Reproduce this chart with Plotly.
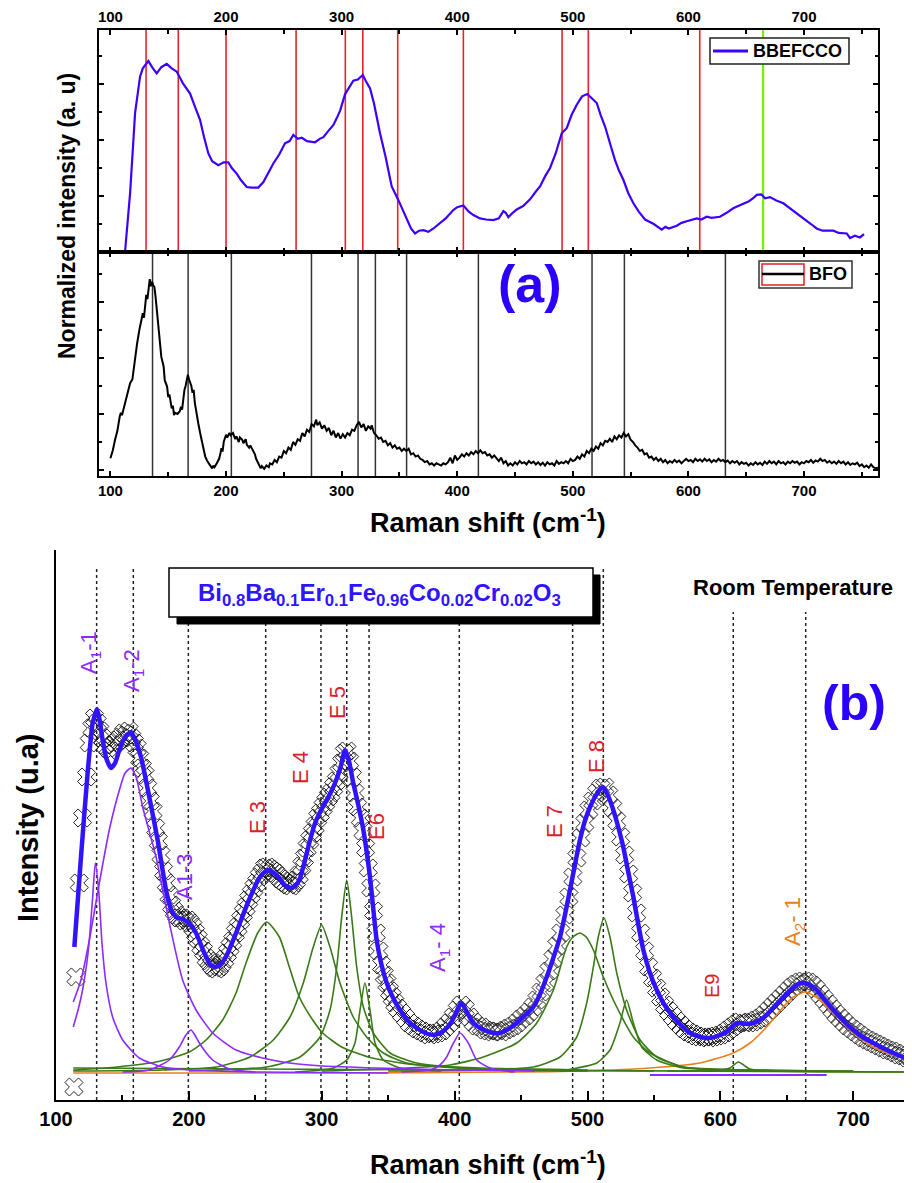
import plotly.graph_objects as go

W, H = 912, 1183
OFF = 8  # page body margin offset in the browser
def PX(px): return (px - OFF) / W
def PY(py): return 1 - (py - OFF) / H

FONT = "Arial, Liberation Sans, sans-serif"

# ---------------- Panel (a) data ----------------
bbe_x = [112.6,117,121.3,125.6,128,132.8,136,140,144,148.7,153,157.4,163,168.9,173,177.5,181,184.7,188,193.3,198,202,205,209.2,213,217.9,222,227.9,232.3,236,240.9,246,251,255,258.2,262,265.5,270,277,281,284.2,288,292.9,296,298.6,303,307,310.1,314,318.3,321,324.6,328,333.2,338,343.3,349,356.3,360,363.5,367,370.7,375,379.4,382,385.1,390,396.6,400,405.3,410,414,419.7,425,431.2,436,439.9,442,444.2,448,451.5,457,463,468,471.6,476,480.3,485,490.4,494.7,499,503.4,508,512.5,516,520.7,524,527.9,532,536.5,540,543.7,548,552.4,557,562.5,570,576.9,580,583,589.9,594,598.5,603,607.2,611,615.8,620,627.3,633,638.8,643,647.5,652,656,659.1,663,666.3,670.6,676,682.1,690,696.5,703,706,710.9,716,725.4,730,737,739.8,744,748.4,751.9]
bbe_y = [0,1.05,2.48,3.13,3.28,3.41,3.30,3.19,3.30,3.36,3.28,3.22,3.00,2.83,2.60,2.36,2.05,1.76,1.62,1.55,1.60,1.60,1.50,1.40,1.28,1.16,1.15,1.15,1.25,1.40,1.58,1.74,1.94,1.98,2.09,2.02,2.04,1.98,1.96,2.02,2.05,2.15,2.27,2.40,2.52,2.82,2.95,3.06,3.08,3.16,3.05,2.92,2.65,2.12,1.70,1.17,0.93,0.57,0.42,0.33,0.38,0.39,0.36,0.42,0.46,0.52,0.60,0.75,0.80,0.83,0.72,0.66,0.60,0.58,0.57,0.60,0.73,0.70,0.62,0.70,0.76,0.82,0.94,1.08,1.17,1.35,1.50,1.75,2.12,2.21,2.45,2.63,2.78,2.82,2.75,2.66,2.45,2.24,1.95,1.64,1.45,1.29,1.05,0.87,0.72,0.58,0.50,0.40,0.45,0.42,0.47,0.52,0.55,0.58,0.60,0.58,0.63,0.61,0.63,0.70,0.78,0.82,0.86,0.90,0.96,1.02,1.03,0.96,0.98,0.92,0.87,0.75,0.66,0.55,0.50,0.42,0.38,0.38,0.34,0.33,0.25,0.29,0.26,0.32]

bfo_x = [100,102,104,106,108,109,110,112,113,115,117,119,121,123,125,127,128,129,130,131,132,133,134,135,136,137,138,139,140,141,142,143,144,146,147,149,150,151,152,153,154,155,156,158,160,161,162,163,164,165,166,167,168,169,170,171,172,173,174,176,178,180,182,184,186,188,189,190,192,194,195,196,197,198,200,201,203,204,206,208,209,211,212,214,215,217,218,220,221,223,225,226,228,230,231,233,235,237,238,240,242,244,246,248,250,252,254,256,258,260,262,264,266,268,270,272,274,276,278,279,281,283,285,287,289,291,293,295,297,299,301,303,305,307,309,311,313,315,317,319,321,323,325,326,328,330,332,334,336,338,340,342,344,346,348,350,352,354,356,358,360,362,364,366,368,370,372,374,376,378,380,382,384,386,388,390,392,394,396,398,400,402,404,406,408,410,412,414,416,418,420,422,424,426,428,430,432,434,436,438,440,442,444,446,448,450,452,454,456,458,460,462,464,466,468,470,472,474,476,478,480,482,484,486,488,490,492,494,496,498,500,502,504,506,508,510,512,514,516,518,520,522,524,526,528,530,532,534,536,538,540,542,544,546,548,550,552,554,556,558,560,562,564,566,568,570,572,574,576,578,580,582,584,586,588,590,592,594,596,598,600,602,604,606,608,610,612,614,616,618,620,622,624,626,628,630,632,634,636,638,640,642,644,646,648,650,652,654,656,658,660,662,664,666,668,670,672,674,676,678,680,682,684,686,688,690,692,694,696,698,700,702,704,706,708,710,712,714,716,718,720,722,724,726,728,730,732,734,736,738,740,742,744,746,748,750,752,754,756,758,760,762,764]
bfo_y = [0.21,0.35,0.54,0.70,0.95,1.02,0.98,1.15,1.19,1.35,1.55,1.62,1.98,2.25,2.50,2.74,2.80,2.72,3.00,3.13,3.05,3.30,3.41,3.28,3.36,3.30,3.27,3.10,2.90,2.62,2.45,2.20,2.02,1.85,1.60,1.49,1.30,1.35,1.19,1.10,1.15,0.98,1.02,1.00,1.05,1.13,1.08,1.30,1.43,1.50,1.62,1.70,1.62,1.55,1.50,1.38,1.43,1.20,1.05,0.83,0.62,0.45,0.24,0.15,0.10,0.03,0.08,0.05,0.12,0.20,0.28,0.39,0.33,0.50,0.63,0.58,0.66,0.62,0.66,0.55,0.60,0.50,0.58,0.54,0.48,0.55,0.45,0.40,0.44,0.36,0.28,0.20,0.10,0.03,0.07,0.02,0.08,0.05,0.12,0.10,0.18,0.14,0.24,0.22,0.34,0.30,0.40,0.36,0.50,0.45,0.55,0.52,0.66,0.60,0.72,0.68,0.82,0.78,0.90,0.80,0.85,0.74,0.80,0.70,0.75,0.62,0.70,0.58,0.66,0.56,0.64,0.58,0.66,0.62,0.72,0.70,0.80,0.86,0.76,0.82,0.70,0.78,0.74,0.80,0.66,0.62,0.56,0.58,0.50,0.52,0.44,0.48,0.40,0.44,0.38,0.40,0.34,0.38,0.34,0.38,0.28,0.30,0.24,0.26,0.20,0.18,0.14,0.16,0.10,0.12,0.08,0.12,0.10,0.08,0.12,0.10,0.14,0.22,0.12,0.26,0.18,0.22,0.28,0.24,0.30,0.26,0.32,0.28,0.34,0.30,0.35,0.30,0.32,0.26,0.28,0.22,0.26,0.20,0.16,0.22,0.12,0.16,0.08,0.12,0.08,0.14,0.10,0.16,0.12,0.14,0.10,0.16,0.12,0.15,0.10,0.14,0.09,0.13,0.08,0.14,0.10,0.12,0.08,0.16,0.11,0.14,0.12,0.16,0.12,0.20,0.16,0.18,0.24,0.20,0.28,0.24,0.34,0.30,0.38,0.34,0.42,0.38,0.48,0.44,0.52,0.50,0.56,0.50,0.60,0.55,0.62,0.58,0.66,0.60,0.64,0.54,0.50,0.44,0.40,0.34,0.36,0.28,0.30,0.22,0.24,0.18,0.22,0.16,0.20,0.14,0.18,0.12,0.16,0.13,0.18,0.14,0.17,0.12,0.16,0.20,0.16,0.18,0.14,0.20,0.16,0.19,0.15,0.20,0.16,0.19,0.14,0.18,0.15,0.20,0.16,0.18,0.14,0.17,0.12,0.16,0.13,0.16,0.10,0.14,0.11,0.13,0.08,0.12,0.09,0.14,0.10,0.13,0.09,0.15,0.11,0.16,0.12,0.15,0.10,0.16,0.12,0.14,0.10,0.15,0.12,0.16,0.13,0.15,0.10,0.14,0.12,0.16,0.14,0.18,0.13,0.17,0.15,0.20,0.16,0.18,0.13,0.16,0.12,0.15,0.11,0.16,0.12,0.15,0.10,0.14,0.09,0.12,0.10,0.13,0.07,0.10,0.05,0.08,0.04,0.10,0.05,0.03,0.04]

bbe_red_lines = [130.8, 158.7, 200.0, 260.6, 303.2, 318.3, 348.5, 405.3, 490.7, 513.4, 609.8]
bbe_green_line = [664.6]
bfo_lines = [136.4, 167.2, 204.6, 273.9, 314.2, 329.2, 356.2, 418.3, 516.6, 544.6, 632.0]
top_ticks = [100, 200, 300, 400, 500, 600, 700]

# ---------------- Panel (b) data ----------------
exp_x = [113.5,115,117.5,120,123,125,127,129,131,133,135,137,139,141,143,145,147,149,151,153,155,157,159,161,163,165,167,169,171,173,175,177,179,181,183,185,187,189,191,193,195,197,199,201,203,205,207,209,211,213,215,217,219,221,223,225,227,229,231,233,235,237,239,241,243,245,247,249,251,253,255,257,259,261,263,265,267,269,271,273,275,277,279,281,283,285,287,289,291,293,295,297,299,301,303,305,307,309,311,313,315,317,319,321,323,325,327,329,331,333,335,337,339,341,343,345,347,349,351,353,355,357,360,363,366,369,372,375,378,381,384,387,390,393,396,399,402,405,408,411,414,417,420,423,426,429,432,435,438,441,444,447,450,453,456,459,462,465,468,471,474,477,480,483,486,489,492,495,498,501,504,507,510,513,516,519,522,525,528,531,534,537,540,543,546,549,552,555,558,561,564,567,570,573,576,579,582,585,588,591,594,597,600,603,606,609,612,615,618,621,624,627,630,633,636,639,642,645,648,651,654,657,660,663,666,669,672,675,678,681,684,687,690,693,696,699,702,705,708,711,714,717,720,723,726,729,732,735,738,741,744]
exp_y = [-0.14,0.96,1.90,2.55,2.96,3.30,3.45,3.55,3.50,3.42,3.35,3.28,3.25,3.22,3.28,3.30,3.33,3.36,3.40,3.38,3.42,3.35,3.30,3.25,3.15,3.05,2.98,2.85,2.72,2.62,2.45,2.32,2.18,2.02,1.90,1.78,1.68,1.62,1.58,1.55,1.55,1.52,1.53,1.50,1.46,1.40,1.34,1.27,1.22,1.15,1.12,1.08,1.05,1.04,1.06,1.10,1.14,1.20,1.26,1.32,1.40,1.46,1.53,1.60,1.66,1.73,1.79,1.85,1.90,1.96,2.00,2.05,2.06,2.04,2.02,2.00,1.97,1.94,1.92,1.90,1.88,1.87,1.90,1.93,1.98,2.07,2.15,2.25,2.33,2.40,2.47,2.55,2.60,2.66,2.71,2.76,2.80,2.86,2.92,3.00,3.10,3.20,3.22,3.12,2.96,2.80,2.66,2.55,2.42,2.25,2.05,1.85,1.62,1.40,1.22,1.08,0.98,0.90,0.82,0.76,0.70,0.65,0.60,0.55,0.50,0.47,0.44,0.42,0.40,0.38,0.39,0.40,0.42,0.46,0.50,0.56,0.63,0.68,0.64,0.56,0.51,0.47,0.46,0.43,0.42,0.41,0.42,0.41,0.43,0.45,0.47,0.50,0.54,0.57,0.61,0.66,0.73,0.81,0.90,1.02,1.14,1.27,1.40,1.58,1.76,1.96,2.15,2.35,2.50,2.63,2.72,2.80,2.85,2.86,2.78,2.65,2.52,2.36,2.18,1.99,1.80,1.60,1.40,1.22,1.06,0.95,0.85,0.76,0.68,0.62,0.57,0.52,0.48,0.44,0.41,0.39,0.37,0.36,0.36,0.35,0.36,0.37,0.38,0.40,0.43,0.46,0.49,0.51,0.50,0.50,0.51,0.53,0.55,0.58,0.62,0.66,0.70,0.74,0.78,0.82,0.86,0.89,0.91,0.92,0.91,0.88,0.84,0.79,0.74,0.69,0.64,0.59,0.55,0.51,0.47,0.44,0.41,0.38,0.35,0.33,0.31,0.29,0.27,0.25,0.23,0.22,0.20,0.18,0.17,0.15,0.14]

fit_x = [113.8,118.8,123.8,127.6,130.9,133,135.1,138,141.4,144.5,147.7,152,156.4,160,164,170.2,176.5,182.8,186.5,190.3,195,199.1,202,205.4,212.9,216.5,220.4,224,227.9,235.5,244.3,253,257,260.5,264,268.1,272,276.9,280,283.1,286.5,290.6,295,300.7,305,310,314,317.5,320.5,323.7,327.5,331.3,336.3,341.3,345,348.9,353,358.9,365,371.4,378,384,389,394,398,400.3,403,405.3,408,411.6,415,419.1,424,429.1,434,439.2,444,449.2,454,459.2,464,469.3,474,479.3,483,486.8,490.5,494.3,498,501.9,506,509,511.5,514,516.5,519.4,522.5,526.9,530.5,534.5,538,542,547,552.1,558,564.6,571,577.1,585,592.2,598,604.7,608,611,614.8,619,624.8,629.5,634.8,641,647.4,652,657.4,660.5,663.7,667.5,672.5,678,685,692,700,707,715.1,722,730.1,737,744.2]
fit_y = [1.26,2.16,3.00,3.50,3.64,3.52,3.33,3.14,3.05,3.10,3.23,3.36,3.41,3.32,3.16,2.76,2.33,1.83,1.64,1.56,1.54,1.51,1.47,1.40,1.16,1.08,1.06,1.09,1.16,1.40,1.70,1.95,2.01,2.03,2.00,1.95,1.88,1.85,1.87,1.93,2.08,2.30,2.50,2.66,2.76,2.90,3.05,3.23,3.12,2.90,2.68,2.43,1.96,1.33,1.08,0.90,0.77,0.63,0.52,0.45,0.40,0.38,0.40,0.45,0.52,0.58,0.66,0.70,0.64,0.55,0.49,0.45,0.42,0.40,0.40,0.43,0.47,0.53,0.59,0.66,0.78,0.96,1.14,1.36,1.58,1.83,2.08,2.33,2.52,2.66,2.77,2.83,2.86,2.81,2.74,2.63,2.49,2.26,2.02,1.76,1.50,1.23,1.00,0.83,0.68,0.56,0.47,0.40,0.36,0.35,0.37,0.41,0.45,0.49,0.50,0.49,0.50,0.53,0.58,0.67,0.76,0.82,0.88,0.90,0.90,0.88,0.83,0.74,0.63,0.53,0.43,0.36,0.30,0.25,0.20,0.16,0.13]

a1_1_x = [113,117,120,123,125.1,127.6,129.6,132.1,134.6,137.6,142.6,150.2,162.7,180.3,200.3,250.5,350]
a1_1_y = [0.46,0.65,0.83,1.08,1.33,1.76,2.10,1.83,1.30,0.90,0.56,0.33,0.15,0.06,0.03,0.01,0.0]
a1_2_x = [113,118.8,125.1,132.6,140.1,147.7,152,156.4,160.5,165.2,175.3,185.3,195.3,205.4,217.9,235.5,255.5,275.6,300.7,340,400,460]
a1_2_y = [0.71,0.93,1.33,1.90,2.43,2.83,3.00,3.05,2.95,2.66,2.16,1.50,0.93,0.63,0.40,0.23,0.15,0.10,0.07,0.05,0.03,0.02]
a1_3_x = [150,170,185.3,192.8,197.8,201.6,204.5,207.9,212,217.9,230.4,250]
a1_3_y = [0.01,0.03,0.13,0.26,0.38,0.43,0.38,0.30,0.22,0.13,0.04,0.01]
a1_4_x = [360,381.5,389,394,399.1,404.1,410.3,416.6,426.6,445]
a1_4_y = [0.01,0.03,0.08,0.16,0.30,0.40,0.30,0.13,0.05,0.01]
purple_base_x = [547, 680]
purple_base_y = [-0.02, -0.02]

e3_x = [113,137.6,175.3,200.3,212.9,225.4,235.5,243,251.8,258.6,268.1,275.6,283.1,293.2,300.7,315,335,365,420,500]
e3_y = [0.03,0.05,0.11,0.21,0.33,0.53,0.80,1.10,1.40,1.51,1.36,1.06,0.76,0.53,0.40,0.26,0.16,0.09,0.05,0.03]
e4_x = [113,180,220.9,246,263.5,276.1,286.1,293.6,299.9,306.2,313.7,323.7,333.8,346.3,363.9,400,450,550]
e4_y = [0.02,0.03,0.06,0.16,0.33,0.56,0.90,1.26,1.48,1.26,0.90,0.56,0.36,0.20,0.10,0.05,0.03,0.02]
e5_x = [200,258.6,283.6,298.7,306.2,311.3,315,318.8,322.5,326.3,331.3,338.8,351.4,371.4,420,500]
e5_y = [0.02,0.06,0.16,0.36,0.63,1.06,1.56,1.93,1.56,1.06,0.66,0.40,0.20,0.10,0.04,0.02]
e6_x = [280,308.7,318.8,325,328.8,332.5,336.3,340.1,346.3,359,390]
e6_y = [0.01,0.05,0.13,0.30,0.63,0.90,0.63,0.30,0.13,0.05,0.02]
e7_x = [300,350,396.5,421.6,446.7,461.8,474.3,484.3,489,494.3,499,504.4,511.9,522,534.5,547.1,572.1,620,700]
e7_y = [0.02,0.04,0.08,0.16,0.30,0.50,0.83,1.26,1.36,1.40,1.36,1.23,0.96,0.66,0.36,0.20,0.06,0.03,0.02]
e8_x = [350,420,459.2,479.3,491.9,499.4,504.4,508.1,512.4,516.9,522,529.4,539.6,552.1,572.1,620,700]
e8_y = [0.02,0.03,0.06,0.16,0.36,0.70,1.06,1.36,1.55,1.36,1.00,0.63,0.33,0.16,0.06,0.03,0.02]
e8b_x = [480,506.9,516.9,524.4,529.4,534.5,540.8,552.1,572.1,610,680]
e8b_y = [0.02,0.10,0.23,0.50,0.73,0.50,0.26,0.13,0.05,0.03,0.02]
e9_x = [560,600,607.3,613.5,622.3,640,744]
e9_y = [0.02,0.03,0.05,0.11,0.04,0.02,0.01]
green_base_x = [113, 400, 744]
green_base_y = [0.05, 0.03, 0.01]

a2_1_x = [113,300,450,496.8,547,584.6,609.7,622.3,634.8,647.3,655,663.7,672,685,700.1,715.1,730.2,744.2]
a2_1_y = [0.0,0.0,0.01,0.02,0.05,0.10,0.20,0.30,0.46,0.66,0.76,0.81,0.76,0.60,0.40,0.26,0.18,0.13]

dotted_lines = [130.6, 158.2, 199.6, 257.8, 299.4, 318.8, 335.6, 403.5, 488.8, 511.9, 609.7, 664.2]
dotted_tops = [5.07, 5.07, 5.07, 5.07, 5.07, 5.07, 5.07, 5.07, 5.07, 5.07, 4.61, 4.61]

PURPLE = "#8A2BFF"
GREEN = "#3A7A16"
ORANGE = "#E8801E"
RED = "#DC1E28"
BLUE = "#3014FF"

fig = go.Figure()

fig.add_trace(go.Scatter(x=bbe_x, y=bbe_y, xaxis="x", yaxis="y", mode="lines",
                         line=dict(color="#3C00FF", width=2.2)))
fig.add_trace(go.Scatter(x=bfo_x, y=bfo_y, xaxis="x2", yaxis="y2", mode="lines",
                         line=dict(color="black", width=2)))

fig.add_trace(go.Scatter(x=exp_x, y=exp_y, xaxis="x3", yaxis="y3", mode="markers",
                         marker=dict(symbol="x-open", size=16, color="rgba(15,15,15,0.9)",
                                     line=dict(width=1, color="rgba(15,15,15,0.9)"))))

def comp(x, y, color, width=1.6):
    fig.add_trace(go.Scatter(x=x, y=y, xaxis="x3", yaxis="y3", mode="lines",
                             line=dict(color=color, width=width, shape="spline", smoothing=0.6)))

comp(a2_1_x, a2_1_y, ORANGE)
comp(green_base_x, green_base_y, GREEN)
comp(purple_base_x, purple_base_y, PURPLE, 2)
for cx, cy in [(e3_x, e3_y), (e4_x, e4_y), (e5_x, e5_y), (e6_x, e6_y), (e7_x, e7_y),
               (e8_x, e8_y), (e8b_x, e8b_y), (e9_x, e9_y)]:
    comp(cx, cy, GREEN)
for cx, cy in [(a1_1_x, a1_1_y), (a1_2_x, a1_2_y), (a1_3_x, a1_3_y), (a1_4_x, a1_4_y)]:
    comp(cx, cy, PURPLE)

fig.add_trace(go.Scatter(x=fit_x, y=fit_y, xaxis="x3", yaxis="y3", mode="lines",
                         line=dict(color=BLUE, width=4.5, shape="spline", smoothing=0.5)))

shapes = []
for xv in bbe_red_lines:
    shapes.append(dict(type="line", xref="x", yref="y domain", x0=xv, x1=xv, y0=0, y1=1,
                       line=dict(color="#E8212B", width=1.6), layer="below"))
for xv in bbe_green_line:
    shapes.append(dict(type="line", xref="x", yref="y domain", x0=xv, x1=xv, y0=0, y1=1,
                       line=dict(color="#77F000", width=2.2), layer="below"))
for xv in bfo_lines:
    shapes.append(dict(type="line", xref="x2", yref="y2 domain", x0=xv, x1=xv, y0=0, y1=1,
                       line=dict(color="#333333", width=1.5), layer="below"))
for xv, yt in zip(dotted_lines, dotted_tops):
    shapes.append(dict(type="line", xref="x3", yref="y3", x0=xv, x1=xv, y0=-0.27, y1=yt,
                       line=dict(color="#222222", width=1.5, dash="dot"), layer="below"))

shapes.append(dict(type="rect", xref="paper", yref="paper", x0=PX(710), x1=PX(849), y0=PY(64), y1=PY(38),
                   line=dict(color="#222", width=1.5), fillcolor="white"))
shapes.append(dict(type="line", xref="paper", yref="paper", x0=PX(713), x1=PX(748), y0=PY(51), y1=PY(51),
                   line=dict(color="#3C00FF", width=3)))
shapes.append(dict(type="rect", xref="paper", yref="paper", x0=PX(759), x1=PX(852), y0=PY(288), y1=PY(261),
                   line=dict(color="#333", width=1.5), fillcolor="white"))
shapes.append(dict(type="rect", xref="paper", yref="paper", x0=PX(762), x1=PX(804), y0=PY(285), y1=PY(264),
                   line=dict(color="#E02020", width=1.5), fillcolor="white"))
shapes.append(dict(type="line", xref="paper", yref="paper", x0=PX(762), x1=PX(804), y0=PY(274), y1=PY(274),
                   line=dict(color="black", width=2.5)))

shapes.append(dict(type="rect", xref="paper", yref="paper", x0=PX(177), x1=PX(600), y0=PY(624), y1=PY(575),
                   line=dict(color="black", width=1), fillcolor="black"))
shapes.append(dict(type="rect", xref="paper", yref="paper", x0=PX(169), x1=PX(593), y0=PY(617), y1=PY(568),
                   line=dict(color="black", width=1.5), fillcolor="white"))

def ann(text, px, py, size, color="black", bold=True, angle=0, xanchor="center"):
    return dict(text=text, x=PX(px), y=PY(py), xref="paper", yref="paper", showarrow=False,
                textangle=angle, xanchor=xanchor, yanchor="middle",
                font=dict(family=FONT, size=size, color=color, weight="bold" if bold else "normal"))

annotations = [
    ann("Normalized intensity (a. u)", 67, 216, 23, angle=-90),
    ann("Raman shift (cm<sup>-1</sup>)", 488, 521, 27),
    ann("(a)", 530, 284, 52, color="#2B00FF"),
    ann("BBEFCCO", 751, 51, 18, xanchor="left"),
    ann("BFO", 807, 274, 18, xanchor="left"),
    ann("Intensity (u.a)", 28, 828, 29, angle=-90),
    ann("Raman shift (cm<sup>-1</sup>)", 488, 1163, 27),
    ann("Bi<sub>0.8</sub>Ba<sub>0.1</sub>Er<sub>0.1</sub>Fe<sub>0.96</sub>Co<sub>0.02</sub>Cr<sub>0.02</sub>O<sub>3</sub>",
        379, 594, 24, color="#3014FF"),
    ann("Room Temperature", 793, 587, 22),
    ann("(b)", 854, 703, 50, color="#2B00FF"),
    ann("A<sub>1</sub>-1", 90, 653, 22, color=PURPLE, bold=False, angle=-90),
    ann("A<sub>1</sub>-2", 133, 671, 22, color=PURPLE, bold=False, angle=-90),
    ann("A1-3", 184, 877, 22, color=PURPLE, bold=False, angle=-90),
    ann("A<sub>1</sub>- 4", 439, 948, 22, color=PURPLE, bold=False, angle=-90),
    ann("E 3", 257, 818, 22, color=RED, bold=False, angle=-90),
    ann("E 4", 300, 768, 22, color=RED, bold=False, angle=-90),
    ann("E 5", 337, 703, 22, color=RED, bold=False, angle=-90),
    ann("E6", 376, 827, 22, color=RED, bold=False, angle=-90),
    ann("E 7", 554, 822, 22, color=RED, bold=False, angle=-90),
    ann("E 8", 596, 757, 22, color=RED, bold=False, angle=-90),
    ann("E9", 712, 986, 20, color=RED, bold=False, angle=-90),
    ann("A<sub>2</sub>- 1", 794, 922, 22, color=ORANGE, bold=False, angle=-90),
]

tickfont_a = dict(family=FONT, size=15, color="black", weight="bold")
common_x_a = dict(range=[90.1, 764], showline=True, linewidth=2, linecolor="black", mirror="ticks",
                  ticks="inside", ticklen=5, tickwidth=1.5, tickcolor="black",
                  tickmode="array", tickvals=top_ticks, ticktext=[str(t) for t in top_ticks],
                  minor=dict(ticks="inside", tickvals=[150, 250, 350, 450, 550, 650, 750],
                             ticklen=4, tickwidth=1.5, tickcolor="black"),
                  showgrid=False, zeroline=False, tickfont=tickfont_a, automargin=False)
common_y_a = dict(showline=True, linewidth=2, linecolor="black", mirror="ticks",
                  ticks="inside", ticklen=5, tickwidth=1.5, tickcolor="black",
                  tick0=0, dtick=1, showticklabels=False,
                  minor=dict(ticks="inside", dtick=0.5, ticklen=3, tickwidth=1.5, tickcolor="black"),
                  showgrid=False, zeroline=False, automargin=False)

fig.update_layout(
    template="none",
    width=W, height=H, margin=dict(l=0, r=0, t=0, b=0, pad=0, autoexpand=False),
    paper_bgcolor="white", plot_bgcolor="white", showlegend=False,
    xaxis=dict(domain=[PX(99), PX(878)], anchor="y", side="top", **common_x_a),
    xaxis2=dict(domain=[PX(99), PX(878)], anchor="y2", side="bottom", **common_x_a),
    yaxis=dict(domain=[PY(252), PY(30)], range=[0, 3.964], anchor="x", **common_y_a),
    yaxis2=dict(domain=[PY(476), PY(252)], range=[-0.107, 3.893], anchor="x2", **common_y_a),
    xaxis3=dict(domain=[PX(56), PX(912)], range=[100, 744.2], anchor="y3",
                showline=True, linewidth=2, linecolor="black",
                ticks="inside", ticklen=9, tickwidth=2, tickcolor="black", tick0=100, dtick=100,
                minor=dict(ticks="inside", dtick=50, ticklen=5, tickwidth=2, tickcolor="black"),
                showgrid=False, zeroline=False, automargin=False,
                tickfont=dict(family=FONT, size=20, color="black", weight="bold")),
    yaxis3=dict(domain=[PY(1100), PY(550)], range=[-0.27, 5.23], anchor="x3",
                showline=True, linewidth=2, linecolor="black", ticks="", showticklabels=False,
                showgrid=False, zeroline=False, automargin=False),
    shapes=shapes, annotations=annotations,
)

fig.write_html("out.html")
